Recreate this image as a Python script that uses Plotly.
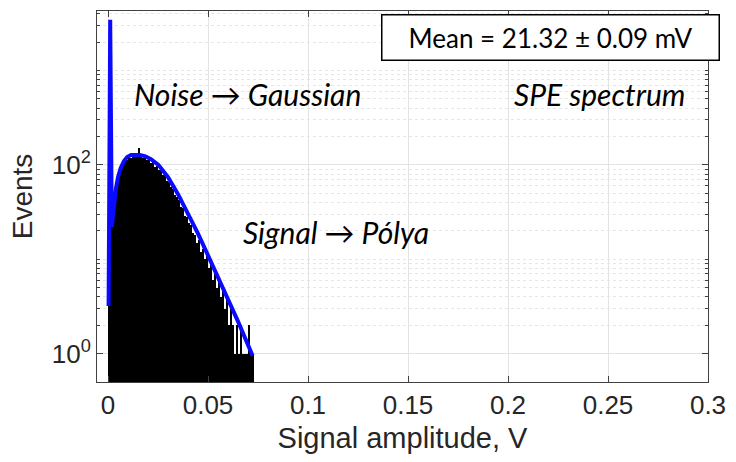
import plotly.graph_objects as go

# Histogram (bin width 0.001 V, first bin centred at 0.0005 V)
counts = [20, 22, 33, 47, 66, 78, 92, 98, 110, 112,
          121, 118, 126, 120, 131, 150, 122, 118, 124, 112,
          114, 104, 106, 96, 98, 88, 90, 78, 80, 68,
          66, 58, 56, 48, 46, 42, 36, 35, 29, 28,
          24, 23, 19, 18, 15, 16, 12, 13, 10, 11,
          8, 9, 6, 7, 5, 6, 4, 5, 3, 4,
          2, 3, 2, 1, 2, 1, 2, 1, 1, 1,
          2, 1, 1]

# Fitted curve (Gaussian noise + Polya signal)
fit_x = [0.0003, 0.0011, 0.0019, 0.0025, 0.0032, 0.0040, 0.0050, 0.0063, 0.0080, 0.0096,
         0.0115, 0.0137, 0.0160, 0.0187, 0.0215, 0.0252, 0.0300, 0.0350, 0.0400, 0.0450,
         0.0500, 0.0550, 0.0600, 0.0650, 0.0723]
fit_y = [3.2, 3450, 22, 30, 42, 57, 74, 92, 110, 121,
         127, 128, 127, 123, 115, 100, 74, 49, 31, 18.7,
         11, 6.5, 3.8, 2.2, 0.95]

x_tick_vals = [0, 0.05, 0.1, 0.15, 0.2, 0.25, 0.3]
x_tick_text = ["0", "0.05", "0.1", "0.15", "0.2", "0.25", "0.3"]
y_tick_vals = [1, 100]
y_tick_text = ["10<sup>0</sup>", "10<sup>2</sup>"]
y_minor_vals = [2, 3, 4, 5, 6, 7, 8, 9, 10, 20, 30, 40, 50, 60, 70, 80, 90,
                200, 300, 400, 500, 600, 700, 800, 900, 1000, 2000, 3000, 4000]

fig = go.Figure()
fig.add_trace(go.Bar(x0=0.0005, dx=0.001, y=counts, width=0.001,
                     marker=dict(color="black", line=dict(width=0)),
                     showlegend=False))
fig.add_trace(go.Scatter(x=fit_x, y=fit_y, mode="lines",
                         line=dict(color="#0a0aff", width=4),
                         showlegend=False))

axis_col = "#404040"
txt_col = "#262626"
fig.update_layout(
    width=736, height=462,
    margin=dict(l=97, r=21, t=10, b=80),
    paper_bgcolor="white", plot_bgcolor="white",
    bargap=0,
    font=dict(family="Liberation Sans, Arial", color=txt_col),
    xaxis=dict(range=[-0.0055, 0.3], tickvals=x_tick_vals, ticktext=x_tick_text,
               ticks="inside", ticklen=6, tickcolor=axis_col,
               showline=True, linecolor=axis_col, linewidth=1, mirror="ticks",
               showgrid=True, gridcolor="#e3e3e3", gridwidth=1, zeroline=False,
               tickfont=dict(size=26, color=txt_col),
               title=dict(text="Signal amplitude, V", font=dict(size=29, color=txt_col), standoff=8)),
    yaxis=dict(type="log", range=[-0.3, 3.63], tickvals=y_tick_vals, ticktext=y_tick_text,
               ticks="inside", ticklen=6, tickcolor=axis_col,
               showline=True, linecolor=axis_col, linewidth=1, mirror="ticks",
               showgrid=True, gridcolor="#e3e3e3", gridwidth=1, zeroline=False,
               tickfont=dict(size=26, color=txt_col),
               minor=dict(tickmode="array", tickvals=y_minor_vals, ticks="inside", ticklen=3,
                          tickcolor=axis_col, showgrid=True, gridcolor="#e6e6e6", griddash="dot"),
               title=dict(text="Events", font=dict(size=28, color=txt_col), standoff=10)),
)

it_font = dict(family="Lato", size=30, color="black")
fig.add_annotation(xref="paper", yref="paper", x=0.058, y=0.777, xanchor="left", yanchor="middle",
                   text="<i>Noise → Gaussian</i>", showarrow=False, font=it_font)
fig.add_annotation(xref="paper", yref="paper", x=0.680, y=0.777, xanchor="left", yanchor="middle",
                   text="<i>SPE spectrum</i>", showarrow=False, font=it_font)
fig.add_annotation(xref="paper", yref="paper", x=0.236, y=0.405, xanchor="left", yanchor="middle",
                   text="<i>Signal → Pólya</i>", showarrow=False, font=it_font)
fig.add_annotation(xref="paper", yref="paper", x=0.742, y=0.929, xanchor="center", yanchor="middle",
                   text="Mean = 21.32 ± 0.09 mV", showarrow=False,
                   font=dict(family="Lato", size=26, color="black"),
                   bgcolor="white", bordercolor="black", borderwidth=1.5,
                   width=334, height=42)

fig.write_html("out.html")
